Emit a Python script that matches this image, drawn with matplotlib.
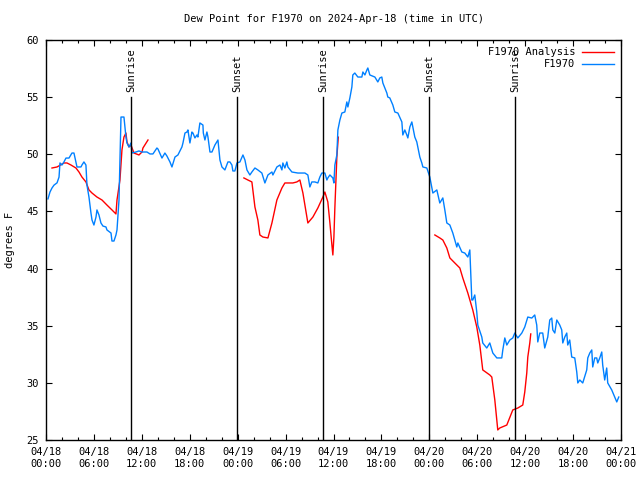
import numpy as np
import pandas as pd
import matplotlib
matplotlib.use('Agg')
import matplotlib.pyplot as plt
import matplotlib.dates as mdates

start = pd.Timestamp('2024-04-18 00:00')

# observed dew point (hours since 04/18 00Z, deg F)
obs_hours = [0.25, 0.5, 0.75, 1.0, 1.38, 1.63, 1.75, 2.0, 2.25, 2.5, 2.88, 3.25, 3.5, 3.75, 3.88,
             4.38, 4.5, 4.75, 5.0, 5.13, 5.38, 5.63, 5.76, 6.0, 6.26, 6.38, 6.63, 6.88, 7.13, 7.51,
             7.63, 8.14, 8.26, 8.51, 8.76, 8.89, 9.14, 9.39, 9.76, 10.01, 10.14, 10.39, 10.64, 10.76,
             11.26, 11.64, 12.02, 12.64, 13.02, 13.39, 13.89, 14.02, 14.52, 14.89, 15.14, 15.52,
             15.77, 16.15, 16.52, 17.02, 17.15, 17.4, 17.65, 17.77, 18.02, 18.27, 18.4, 18.65, 18.9,
             19.02, 19.27, 19.65, 19.7, 19.9, 20.15, 20.28, 20.53, 20.78, 21.15, 21.53, 21.78, 22.03,
             22.4, 22.78, 23.03, 23.28, 23.4, 23.65, 23.91, 24.28, 24.66, 24.91, 25.16, 25.53, 25.78,
             26.16, 26.53, 27.03, 27.41, 27.79, 28.29, 28.41, 28.91, 29.29, 29.54, 29.66, 29.91,
             30.16, 30.29, 30.79, 31.54, 32.42, 32.79, 33.04, 33.29, 33.67, 34.04, 34.29, 34.54,
             34.92, 35.17, 35.29, 35.55, 35.92, 36.05, 36.17, 36.42, 36.55, 36.8, 37.05, 37.42,
             37.67, 37.8, 38.05, 38.3, 38.42, 38.67, 39.05, 39.55, 39.68, 39.93, 40.18, 40.3, 40.55,
             41.18, 41.55, 41.8, 42.05, 42.18, 42.68, 42.8, 43.05, 43.43, 43.68, 44.06, 44.56, 44.68,
             44.93, 45.18, 45.31, 45.56, 45.81, 45.93, 46.18, 46.43, 46.56, 46.81, 47.06, 47.19,
             47.69, 48.06, 48.44, 48.94, 49.31, 49.69, 49.94, 50.19, 50.57, 50.94, 51.44, 51.57,
             52.07, 52.44, 52.82, 53.07, 53.32, 53.44, 53.69, 53.94, 54.07, 54.57, 54.69, 55.19,
             55.57, 55.95, 56.45, 57.07, 57.2, 57.45, 57.7, 58.08, 58.45, 58.7, 59.08, 59.58, 59.95,
             60.33, 60.83, 61.2, 61.45, 61.58, 61.83, 62.2, 62.45, 62.83, 63.08, 63.33, 63.46, 63.71,
             63.96, 64.33, 64.58, 64.71, 64.96, 65.21, 65.33, 65.58, 65.83, 66.21, 66.46, 66.59,
             66.84, 67.21, 67.71, 67.84, 68.09, 68.34, 68.46, 68.71, 68.96, 69.09, 69.34, 69.59,
             69.71, 69.96, 70.21, 70.34, 70.84, 71.22, 71.47, 71.72]
obs_dewp = [46.1, 46.7, 47.05, 47.3, 47.5, 48.0, 49.24, 49.06, 49.33, 49.67, 49.67, 50.11, 50.11,
            49.33, 48.89, 48.89, 49.06, 49.33, 49.06, 47.3, 46.26, 44.86, 44.25, 43.81, 44.51,
            45.13, 44.69, 43.99, 43.72, 43.64, 43.38, 43.11, 42.41, 42.41, 42.94, 43.38, 46.0,
            53.26, 53.26, 51.51, 50.99, 50.64, 50.99, 50.11, 50.2, 50.29, 50.2, 50.2, 50.03, 50.03,
            50.55, 50.46, 49.67, 50.11, 49.85, 49.33, 48.89, 49.76, 49.94, 50.64, 50.99, 51.86,
            51.95, 52.13, 50.99, 51.95, 51.86, 51.43, 51.69, 51.51, 52.74, 52.56, 51.86, 51.25,
            51.95, 51.51, 50.2, 50.2, 50.81, 51.25, 49.5, 48.89, 48.63, 49.33, 49.33, 49.06, 48.54,
            48.54, 49.24, 49.33, 49.94, 49.5, 48.63, 48.19, 48.45, 48.8, 48.63, 48.36, 47.49, 48.19,
            48.45, 48.19, 48.89, 49.06, 48.63, 49.24, 48.8, 49.33, 48.89, 48.45, 48.36, 48.36,
            48.19, 47.14, 47.58, 47.58, 47.49, 48.01, 48.36, 48.36, 47.75, 47.93, 48.19, 47.93,
            47.49, 49.06, 49.94, 52.13, 53.0, 53.61, 53.7, 54.58, 54.14, 54.93, 55.89, 56.94, 57.11,
            56.76, 56.76, 57.2, 56.94, 57.38, 57.55, 56.94, 56.76, 56.33, 56.68, 56.76, 56.24, 55.36,
            55.01, 54.93, 54.31, 53.7, 53.61, 52.83, 51.69, 52.13, 51.69, 51.43, 52.39, 52.83, 52.39,
            51.51, 51.08, 50.64, 49.76, 49.24, 48.89, 48.8, 48.01, 46.61, 46.88, 45.74, 46.18, 45.13,
            43.99, 43.81, 43.11, 41.89, 42.24, 41.45, 41.36, 41.01, 41.63, 37.25, 37.25, 37.69, 36.2,
            35.06, 34.01, 33.49, 33.05, 33.49, 32.61, 32.18, 32.18, 32.88, 33.93, 33.31, 33.75,
            33.93, 34.36, 33.93, 34.36, 34.89, 35.76, 35.67, 35.94, 35.06, 33.58, 34.36, 34.36,
            33.05, 34.01, 35.5, 35.67, 34.63, 34.36, 35.5, 35.06, 34.63, 33.49, 34.01, 34.36, 33.31,
            33.75, 32.26, 32.18, 30.95, 29.99, 30.25, 29.99, 31.13, 32.18, 32.61, 32.88, 31.39,
            32.18, 32.18, 31.74, 32.18, 32.7, 31.56, 30.25, 31.3, 29.99, 29.38, 28.76, 28.33, 28.76]

# analysis, three runs with gaps (nan) between them
ana_hours = [0.75, 1.38, 2.25, 2.63, 3.13, 3.75, 4.13, 4.5, 5.0, 5.38, 5.76, 6.38, 7.01, 7.63, 8.26,
             8.76, 8.89, 9.26, 9.51, 9.76, 10.01, 10.14, 10.39, 10.64, 11.01, 11.64, 12.02, 12.14,
             12.77, 18.0,
             24.78, 25.28, 25.78, 26.16, 26.53, 26.78, 27.16, 27.79, 28.29, 28.91, 29.54, 29.91,
             30.29, 30.91, 31.41, 31.79, 32.17, 32.79, 33.42, 34.04, 34.67, 34.92, 35.29, 35.55,
             35.8, 35.92, 36.05, 36.17, 36.42, 36.6, 42.0,
             48.69, 49.31, 49.69, 50.19, 50.57, 51.19, 51.82, 52.19, 52.82, 53.44, 53.94, 54.32,
             54.69, 55.57, 55.82, 56.2, 56.57, 56.82, 57.7, 58.45, 59.08, 59.7, 59.95, 60.2, 60.33,
             60.58, 60.7]
ana_dewp = [48.8, 48.89, 49.24, 49.24, 49.06, 48.8, 48.45, 48.01, 47.58, 46.88, 46.61, 46.26, 46.0,
            45.56, 45.13, 44.78, 46.0, 47.75, 50.38, 51.51, 51.86, 51.08, 50.64, 50.81, 50.11,
            49.94, 50.2, 50.55, 51.25, np.nan,
            47.93, 47.75, 47.58, 45.39, 44.25, 42.94, 42.76, 42.68, 43.99, 46.0, 47.05, 47.49, 47.49,
            47.49, 47.58, 47.75, 46.61, 43.99, 44.51, 45.3, 46.26, 46.7, 45.83, 43.99, 42.06, 41.19,
            42.76, 45.3, 49.76, 51.5, np.nan,
            42.94, 42.68, 42.5, 41.8, 40.93, 40.49, 40.05, 39.18, 37.86, 36.38, 34.89, 33.31, 31.13,
            30.69, 30.51, 28.5, 25.88, 26.05, 26.31, 27.63, 27.8, 28.06, 29.2, 30.86, 32.26, 33.49,
            34.28]

sun_hours = [10.68, 23.95, 34.7, 47.97, 58.7]
sun_names = ['Sunrise', 'Sunset', 'Sunrise', 'Sunset', 'Sunrise']

obs_t = start + pd.to_timedelta(obs_hours, unit='h')
ana_t = start + pd.to_timedelta(ana_hours, unit='h')

plt.rcParams['font.family'] = ['DejaVu Sans Mono']
fs = 7.5

fig = plt.figure(figsize=(6.4, 4.8), dpi=100)
ax = fig.add_axes([46/640, 40/480, 575/640, 400/480])

ax.plot(ana_t, ana_dewp, color='#ff0000', lw=1.0, label='F1970 Analysis')
ax.plot(obs_t, obs_dewp, color='#0080ff', lw=1.0, label='F1970')

for h, name in zip(sun_hours, sun_names):
    t = start + pd.Timedelta(hours=h)
    ax.plot([t, t], [25, 55], color='black', lw=1.0)
    ax.text(t, 55.45, name, rotation=90, ha='center', va='bottom', fontsize=fs)

ax.set_xlim(start, start + pd.Timedelta(hours=72))
ax.set_ylim(25, 60)
ax.set_yticks(range(25, 61, 5))
ax.xaxis.set_major_locator(mdates.HourLocator(byhour=range(0, 24, 6)))
ax.xaxis.set_minor_locator(mdates.HourLocator(byhour=range(0, 24, 2)))
ax.xaxis.set_major_formatter(mdates.DateFormatter('%m/%d\n%H:%M'))

ax.tick_params(which='both', direction='in', top=True, right=True, labelsize=fs)
ax.tick_params(which='major', length=4.5, width=0.8)
ax.tick_params(which='minor', length=2.5, width=0.8)
ax.tick_params(axis='x', pad=5)
ax.tick_params(axis='y', pad=5)
for s in ax.spines.values():
    s.set_linewidth(1.0)

ax.set_ylabel('degrees F', fontsize=fs, labelpad=8)
fig.text(333.5/640, 1 - 19/480, 'Dew Point for F1970 on 2024-Apr-18 (time in UTC)',
         ha='center', va='center', fontsize=fs)

leg = ax.legend(loc='upper right', fontsize=fs, frameon=False, markerfirst=False,
                handlelength=3.0, handletextpad=0.7, borderaxespad=0.3, labelspacing=0.2)
for t in leg.get_texts():
    t.set_ha('right')

fig.savefig('out.png', dpi=100)
